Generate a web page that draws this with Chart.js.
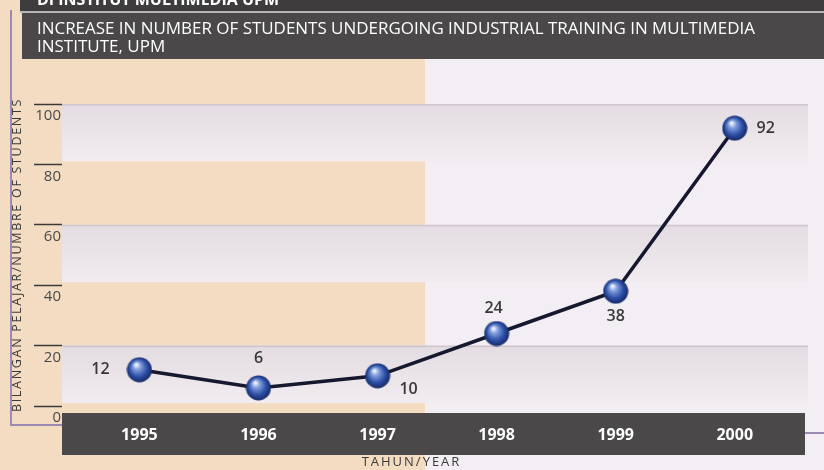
<!DOCTYPE html>
<html>
<head>
<meta charset="utf-8">
<script src="https://cdn.jsdelivr.net/npm/chart.js@4/dist/chart.umd.min.js"></script>
<style>
  html, body { margin: 0; padding: 0; background: #f3eef4; }
  canvas { display: block; }
</style>
</head>
<body>
<canvas id="students" width="824" height="470"></canvas>
<script>
// data
var years = ["1995", "1996", "1997", "1998", "1999", "2000"];
var students = [12, 6, 10, 24, 38, 92];
var yTicks = [0, 20, 40, 60, 80, 100];
var shadedBands = [[0, 20], [40, 60], [80, 100]];

var titleLines = [
  "INCREASE IN NUMBER OF STUDENTS UNDERGOING INDUSTRIAL TRAINING IN MULTIMEDIA",
  "INSTITUTE, UPM"
];

// little shaded blue ball used as point marker
function makeBall(r) {
  var c = document.createElement("canvas");
  c.width = c.height = r * 2;
  var g = c.getContext("2d");
  var grad = g.createRadialGradient(r * 0.75, r * 0.6, 1, r, r, r);
  grad.addColorStop(0, "#eaf0fc");
  grad.addColorStop(0.25, "#7f9cdc");
  grad.addColorStop(0.65, "#2c4fa6");
  grad.addColorStop(1, "#14255e");
  g.fillStyle = grad;
  g.beginPath();
  g.arc(r, r, r - 0.5, 0, Math.PI * 2);
  g.fill();
  return c;
}

var backdrop = {
  id: "backdrop",
  beforeDraw: function (chart) {
    var ctx = chart.ctx, area = chart.chartArea, y = chart.scales.y;
    ctx.save();
    // two tone page
    ctx.fillStyle = "#f3eef4";
    ctx.fillRect(0, 0, chart.width, chart.height);
    ctx.fillStyle = "#f4dcc3";
    ctx.fillRect(0, 0, 425, chart.height);

    // header bars
    ctx.fillStyle = "#3e3c3d";
    ctx.fillRect(20, 0, chart.width - 20, 11);
    ctx.fillStyle = "#b9b4b6";
    ctx.fillRect(20, 11, chart.width - 20, 2);
    ctx.fillStyle = "#4a4849";
    ctx.fillRect(22, 13, chart.width - 22, 46);
    ctx.fillStyle = "#ffffff";
    ctx.font = "bold 16px 'Open Sans'";
    ctx.fillText("DI INSTITUT MULTIMEDIA UPM", 37, 5);
    ctx.font = "17px 'Open Sans'";
    ctx.fillText(titleLines[0], 37, 34, 718);
    ctx.fillText(titleLines[1], 37, 52, 718);

    // purple frame lines
    ctx.strokeStyle = "#9b8ab3";
    ctx.lineWidth = 2;
    ctx.beginPath();
    ctx.moveTo(11, 10);
    ctx.lineTo(11, 425);
    ctx.lineTo(62, 425);
    ctx.moveTo(805, 433);
    ctx.lineTo(824, 433);
    ctx.stroke();

    // horizontal bands
    shadedBands.forEach(function (b) {
      var top = y.getPixelForValue(b[1]), bot = y.getPixelForValue(b[0]);
      var grad = ctx.createLinearGradient(0, top, 0, bot);
      grad.addColorStop(0, "#e3dce2");
      grad.addColorStop(1, "#f2edf1");
      ctx.fillStyle = grad;
      ctx.fillRect(area.left, top, area.right - area.left + 3, bot - top - 3);
      ctx.fillStyle = "#cfc6cd";
      ctx.fillRect(area.left, top, area.right - area.left + 3, 1.5);
    });

    // dark strip under the x labels
    ctx.fillStyle = "#4a4849";
    ctx.fillRect(area.left, area.bottom + 7, area.right - area.left, 42);
    ctx.restore();
  },
  afterLayout: function (chart) {
    // spaced-out axis titles; the year title sits a bit left of centre
    ["x", "y"].forEach(function (id) {
      var s = chart.scales[id];
      if (s._spaced) return;
      var orig = s.drawTitle;
      s.drawTitle = function () {
        this.ctx.save();
        this.ctx.letterSpacing = id === "x" ? "2px" : "1.7px";
        if (id === "x") this.ctx.translate(-22, 0);
        orig.apply(this, arguments);
        this.ctx.restore();
      };
      s._spaced = true;
    });
  }
};

// value labels next to each ball
var labelOffsets = [[-39, 0], [0, -29], [31, 14], [-3, -25], [0, 25], [31, 0]];
var valueLabels = {
  id: "valueLabels",
  afterDatasetsDraw: function (chart) {
    var ctx = chart.ctx;
    var meta = chart.getDatasetMeta(0);
    ctx.save();
    ctx.font = "600 16px 'Open Sans'";
    ctx.fillStyle = "#383838";
    ctx.textAlign = "center";
    ctx.textBaseline = "middle";
    meta.data.forEach(function (pt, i) {
      var o = labelOffsets[i];
      ctx.fillText(String(students[i]), pt.x + o[0], pt.y + o[1]);
    });
    ctx.restore();
  }
};

var ball = makeBall(13);

new Chart(document.getElementById("students"), {
  type: "line",
  data: {
    datasets: [{
      data: years.map(function (yr, i) { return { x: Number(yr), y: students[i] }; }),
      borderColor: "#15182f",
      borderWidth: 3.5,
      tension: 0,
      pointStyle: ball,
      pointRadius: 13
    }]
  },
  options: {
    responsive: false,
    animation: false,
    layout: { padding: { top: 104, right: 19, bottom: 0, left: 0 } },
    plugins: { legend: { display: false }, tooltip: { enabled: false } },
    scales: {
      x: {
        type: "linear",
        min: 1994.35,
        max: 2000.59,
        afterFit: function (s) { s.height = 64; },
        grid: { display: false, drawTicks: false },
        border: { display: false },
        ticks: {
          stepSize: 1,
          includeBounds: false,
          maxRotation: 0,
          autoSkip: false,
          padding: 20,
          color: "#ffffff",
          font: { family: "'Open Sans'", size: 16, weight: "bold" },
          callback: function (v) { return years[years.indexOf(String(v))] || ""; }
        },
        title: {
          display: true,
          text: "TAHUN/YEAR",
          color: "#3a3a3a",
          font: { family: "'Open Sans'", size: 13 },
          padding: { top: 0, bottom: 0 }
        }
      },
      y: {
        min: 0,
        max: 100,
        afterFit: function (s) { s.width = 62; },
        afterBuildTicks: function (s) { s.ticks = yTicks.map(function (v) { return { value: v }; }); },
        grid: { drawOnChartArea: false, drawTicks: true, tickLength: 28, tickColor: "#3a3a3a", tickWidth: 1.5 },
        border: { display: false },
        ticks: {
          padding: -27,
          labelOffset: 12,
          color: "#4a4a4a",
          font: { family: "'Open Sans'", size: 15 }
        },
        title: {
          display: true,
          text: "BILANGAN PELAJAR/NUMBRE OF STUDENTS",
          color: "#3a3a3a",
          font: { family: "'Open Sans'", size: 12.5 },
          padding: { top: 10, bottom: 0 }
        }
      }
    }
  },
  plugins: [backdrop, valueLabels]
});
</script>
</body>
</html>
